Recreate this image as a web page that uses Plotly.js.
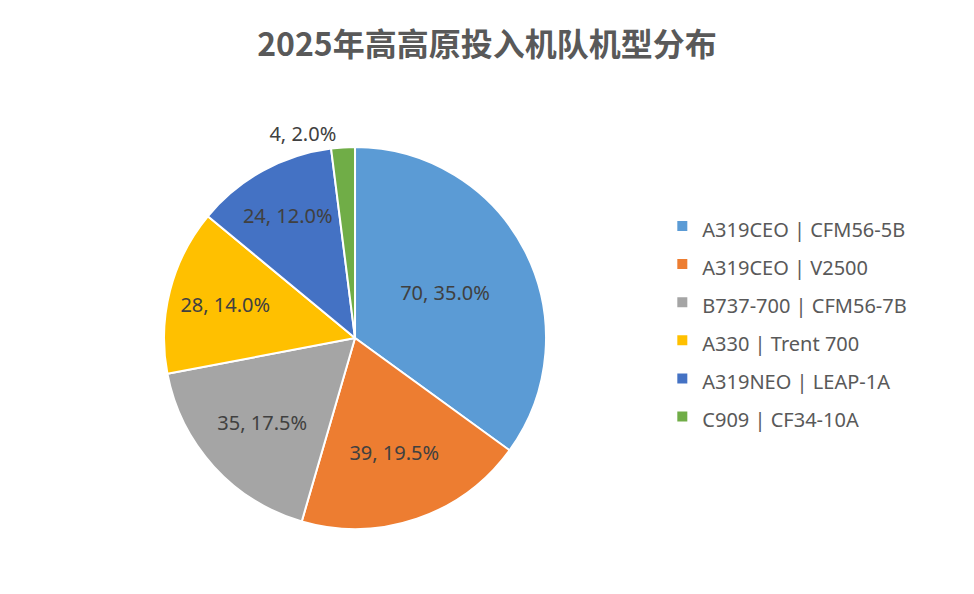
<!DOCTYPE html>
<html><head><meta charset="utf-8">
<script src="https://cdn.plot.ly/plotly-3.0.1.min.js"></script>
<style>html,body{margin:0;padding:0;background:#fff}#chart{width:974px;height:594px}</style>
</head><body><div id="chart"></div>
<script>
const categories = ["A319CEO | CFM56-5B","A319CEO | V2500","B737-700 | CFM56-7B","A330 | Trent 700","A319NEO | LEAP-1A","C909 | CF34-10A"];
const values = [70, 39, 35, 28, 24, 4];
const colors = ["#5B9BD5","#ED7D31","#A5A5A5","#FFC000","#4472C4","#70AD47"];
const total = values.reduce((a,b)=>a+b,0);
const labelsText = values.map(v => v + ", " + (v/total*100).toFixed(1) + "%");
const positions = values.map((v,i) => i === values.length-1 ? "outside" : "inside");
const legendLabels = categories.map(c => '<span style="font-size:20px">' + c + '</span>');

const trace = {
  type: "pie",
  labels: legendLabels,
  values: values,
  text: labelsText,
  textinfo: "text",
  textposition: positions,
  insidetextorientation: "horizontal",
  sort: false,
  direction: "clockwise",
  rotation: 0,
  marker: {colors: colors, line: {color: "#ffffff", width: 2}},
  textfont: {family: "Noto Sans, Open Sans, sans-serif", size: 20, color: "#404040"},
  insidetextfont: {family: "Noto Sans, Open Sans, sans-serif", size: 20, color: "#404040"},
  outsidetextfont: {family: "Noto Sans, Open Sans, sans-serif", size: 20, color: "#404040"},
  domain: {x: [0.1684, 0.5606], y: [0.1094, 0.7525]},
  hoverinfo: "label+value+percent"
};

const layout = {
  width: 974, height: 594,
  margin: {l: 0, r: 0, t: 0, b: 0},
  paper_bgcolor: "#ffffff",
  title: {text: "<b>2025年高高原投入机队机型分布</b>", x: 0.5, xanchor: "center", y: 0.925, yanchor: "middle",
          font: {family: "Noto Sans CJK SC, sans-serif", size: 32, color: "#595959"}},
  showlegend: true,
  legend: {x: 0.68, y: 0.66, xanchor: "left", yanchor: "top",
           font: {family: "Noto Sans, Open Sans, sans-serif", size: 27, color: "#595959"},
           itemwidth: 30, traceorder: "normal"}
};

Plotly.newPlot("chart", [trace], layout, {displayModeBar: false, staticPlot: true});
</script></body></html>
